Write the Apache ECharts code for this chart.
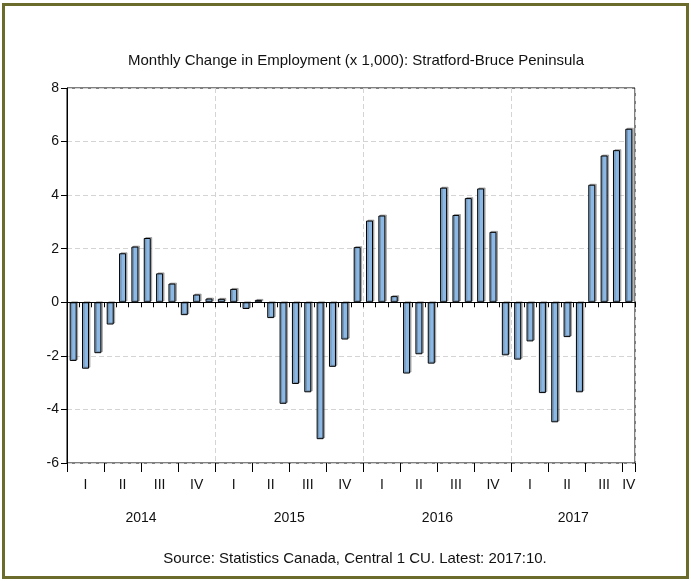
<!DOCTYPE html>
<html>
<head>
<meta charset="utf-8">
<script src="https://cdn.jsdelivr.net/npm/echarts@6/dist/echarts.min.js"></script>
<style>
    html, body { margin: 0; padding: 0; background: #fff; }
    #chart { position: absolute; left: 0; top: 0; width: 691px; height: 581px; }
    #frame {
        position: absolute; left: 2px; top: 3px; width: 681px; height: 570px;
        border: 3px solid #6b6b2b; pointer-events: none; z-index: 5;
    }
</style>
</head>
<body>
<div id="chart"></div>
<div id="frame"></div>
<script>
// monthly change, Jan 2014 .. Oct 2017 (thousands)
const months = [];
const years = [2014, 2015, 2016, 2017];
years.forEach(y => {
    for (let m = 1; m <= 12; m++) {
        if (y === 2017 && m > 10) break;
        months.push(y + '-' + (m < 10 ? '0' + m : m));
    }
});
const values = [
    -2.19, -2.48, -1.90, -0.83, 1.83, 2.08, 2.40, 1.08, 0.70, -0.48, 0.29, 0.14,
    0.13, 0.50, -0.25, 0.09, -0.59, -3.79, -3.05, -3.36, -5.11, -2.41, -1.39, 2.06,
    3.05, 3.24, 0.23, -2.66, -1.94, -2.29, 4.28, 3.26, 3.89, 4.25, 2.63, -1.98,
    -2.14, -1.46, -3.39, -4.48, -1.30, -3.36, 4.39, 5.48, 5.68, 6.48
];
const quarterNames = ['I', 'II', 'III', 'IV'];
const yTicks = [-6, -4, -2, 0, 2, 4, 6, 8];

const chart = echarts.init(document.getElementById('chart'));
const font = 'Liberation Sans, Arial, sans-serif';

// quarter label goes under the middle month, or under the last month if the quarter is cut short
function quarterLabelIndex(i) {
    const last = months.length - 1;
    const qStart = i - (i % 3);
    const qEnd = Math.min(qStart + 2, last);
    return qEnd - qStart === 2 ? i % 3 === 1 : i === qEnd;
}
// year label at the centre of that year's months (on the value axis)
const yearCentres = years.map(y => {
    const idx = months.map((m, i) => m.startsWith(y + '-') ? i : -1).filter(i => i >= 0);
    return { year: y, pos: (idx[0] + idx[idx.length - 1] + 1) / 2 };
});

const option = {
    animation: false,
    backgroundColor: '#fff',
    title: [
        {
            text: 'Monthly Change in Employment (x 1,000): Stratford-Bruce Peninsula',
            left: 351, top: 48, textAlign: 'center',
            textStyle: { fontFamily: font, fontSize: 15, fontWeight: 'normal', color: '#111' }
        },
        {
            text: 'Source: Statistics Canada, Central 1 CU. Latest: 2017:10.',
            left: 350, top: 546, textAlign: 'center',
            textStyle: { fontFamily: font, fontSize: 15, fontWeight: 'normal', color: '#111' }
        }
    ],
    grid: { left: 67, right: 56, top: 88, bottom: 118, show: true, borderColor: '#000', borderWidth: 1 },
    xAxis: [
        {
            type: 'category', data: months, position: 'bottom',
            axisLine: { lineStyle: { color: '#000', width: 1 } },
            axisTick: { show: true, length: 5, interval: 0, lineStyle: { color: '#000' } },
            axisLabel: {
                interval: (i) => quarterLabelIndex(i),
                formatter: (v) => quarterNames[Math.floor((parseInt(v.slice(5)) - 1) / 3)],
                margin: 15, fontFamily: font, fontSize: 14, color: '#111'
            },
            splitLine: {
                show: true, interval: (i) => i > 0 && i % 12 === 0,
                lineStyle: { color: '#d4d4d4', type: [5, 3] }
            }
        },
        {
            type: 'category', data: months, position: 'bottom',
            axisLine: { show: false },
            axisTick: { show: true, length: 9, interval: (i) => i % 3 === 0, lineStyle: { color: '#000' } },
            axisLabel: { show: false },
            splitLine: { show: false }
        },
        {
            type: 'value', min: 0, max: months.length, interval: 0.5, position: 'bottom',
            axisLine: { show: false }, axisTick: { show: false }, splitLine: { show: false },
            axisLabel: {
                margin: 48, fontFamily: font, fontSize: 14, color: '#111',
                showMinLabel: true, showMaxLabel: true,
                formatter: (v) => {
                    const c = yearCentres.find(c => Math.abs(c.pos - v) < 0.01);
                    return c ? String(c.year) : '';
                }
            }
        }
    ],
    yAxis: {
        type: 'value', min: -6, max: 8, interval: 2,
        axisLine: { show: true, lineStyle: { color: '#000' } },
        axisTick: { show: true, length: 6, lineStyle: { color: '#000' } },
        axisLabel: { margin: 8, fontFamily: font, fontSize: 14, color: '#111',
            formatter: (v) => yTicks.includes(v) ? String(v) : '' },
        splitLine: { show: true, lineStyle: { color: '#d4d4d4', type: [5, 3] } }
    },
    series: [
        {
            type: 'bar', data: values, xAxisIndex: 0, barWidth: 7,
            itemStyle: {
                color: '#8bb8e4', borderColor: '#000', borderWidth: 1,
                shadowColor: 'rgba(80,80,80,0.4)', shadowOffsetX: 1.5, shadowOffsetY: -1, shadowBlur: 0
            },
            markLine: {
                silent: true, symbol: 'none', label: { show: false },
                lineStyle: { color: '#000', type: 'solid', width: 1 },
                data: [{ yAxis: 0 }]
            }
        }
    ]
};
chart.setOption(option);
</script>
</body>
</html>
